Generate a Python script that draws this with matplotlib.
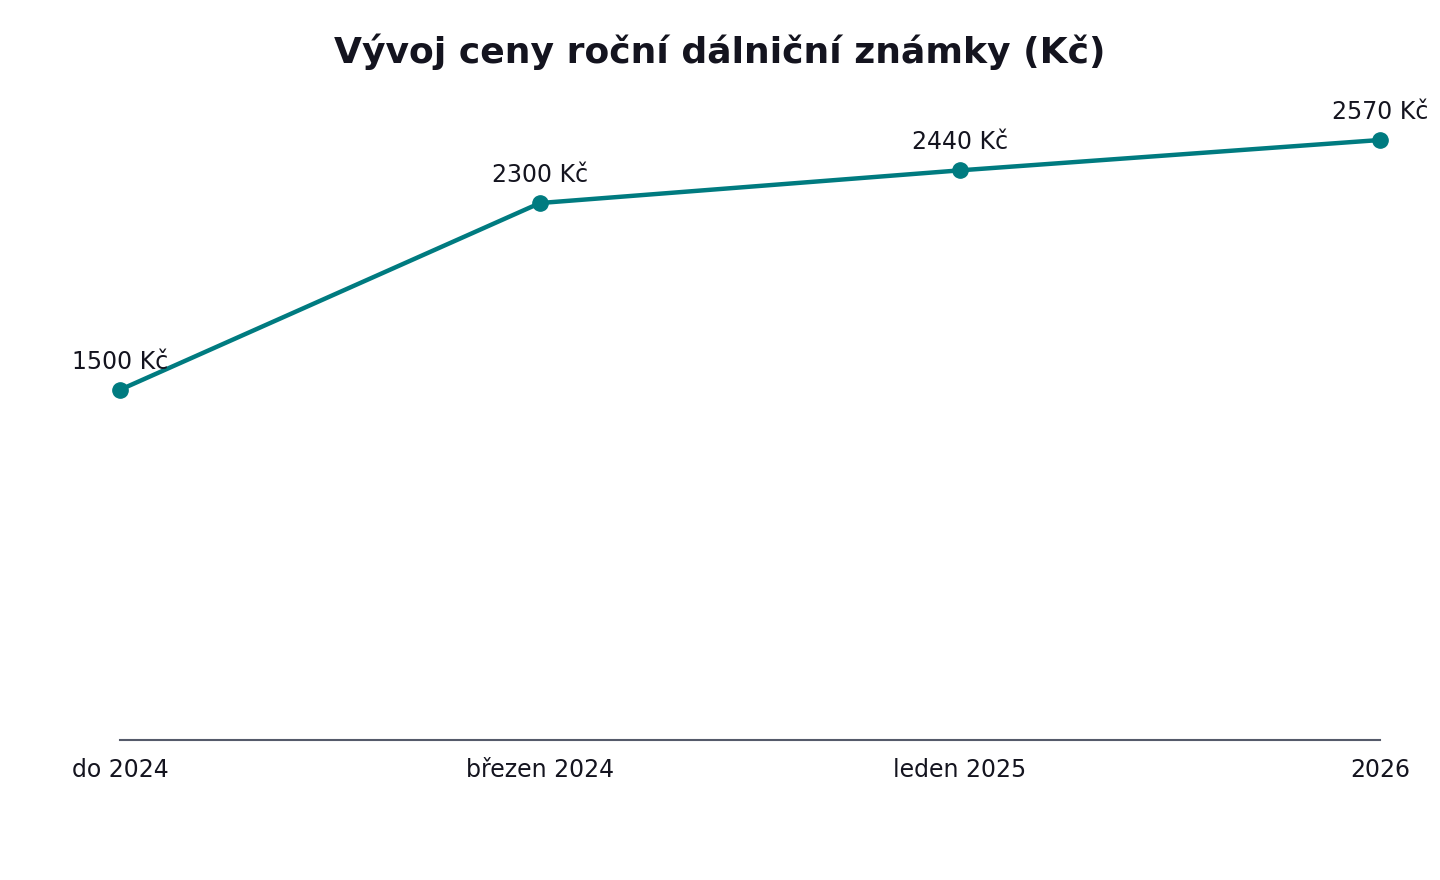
import matplotlib
matplotlib.use("Agg")
import matplotlib.pyplot as plt

plt.rcParams["font.family"] = ["DejaVu Sans"]

categories = ["do 2024", "březen 2024", "leden 2025", "2026"]
prices = [1500, 2300, 2440, 2570]
value_labels = ["1500 Kč", "2300 Kč", "2440 Kč", "2570 Kč"]
title = "Vývoj ceny roční dálniční známky (Kč)"

color_line = "#007B80"
text_color = "#14141f"

fig = plt.figure(figsize=(14.4, 8.8), dpi=100)
ax = fig.add_axes([120/1440, 1 - 740/880, 1260/1440, (740 - 80)/880])

x = list(range(len(categories)))
ax.plot(x, prices, color=color_line, linewidth=3.2, marker="o", markersize=11, zorder=3, clip_on=False)
for xi, yi, lab in zip(x, prices, value_labels):
    ax.annotate(lab, (xi, yi), xytext=(0, 11.5), textcoords="offset points",
                ha="center", va="bottom", fontsize=17, color=text_color)

ax.set_xlim(0, len(categories) - 1)
ax.set_ylim(0, max(prices) * 1.1)
ax.set_xticks(x)
ax.set_xticklabels(categories, fontsize=17, color=text_color)
ax.set_yticks([])
for s in ["top", "right", "left"]:
    ax.spines[s].set_visible(False)
ax.spines["bottom"].set_color("#555a6a")
ax.spines["bottom"].set_linewidth(1.5)
ax.tick_params(axis="x", length=0, pad=13)

fig.suptitle(title, fontsize=26, fontweight="bold", color=text_color, y=1 - 52/880, va="center")

fig.savefig("out.png", dpi=100)
